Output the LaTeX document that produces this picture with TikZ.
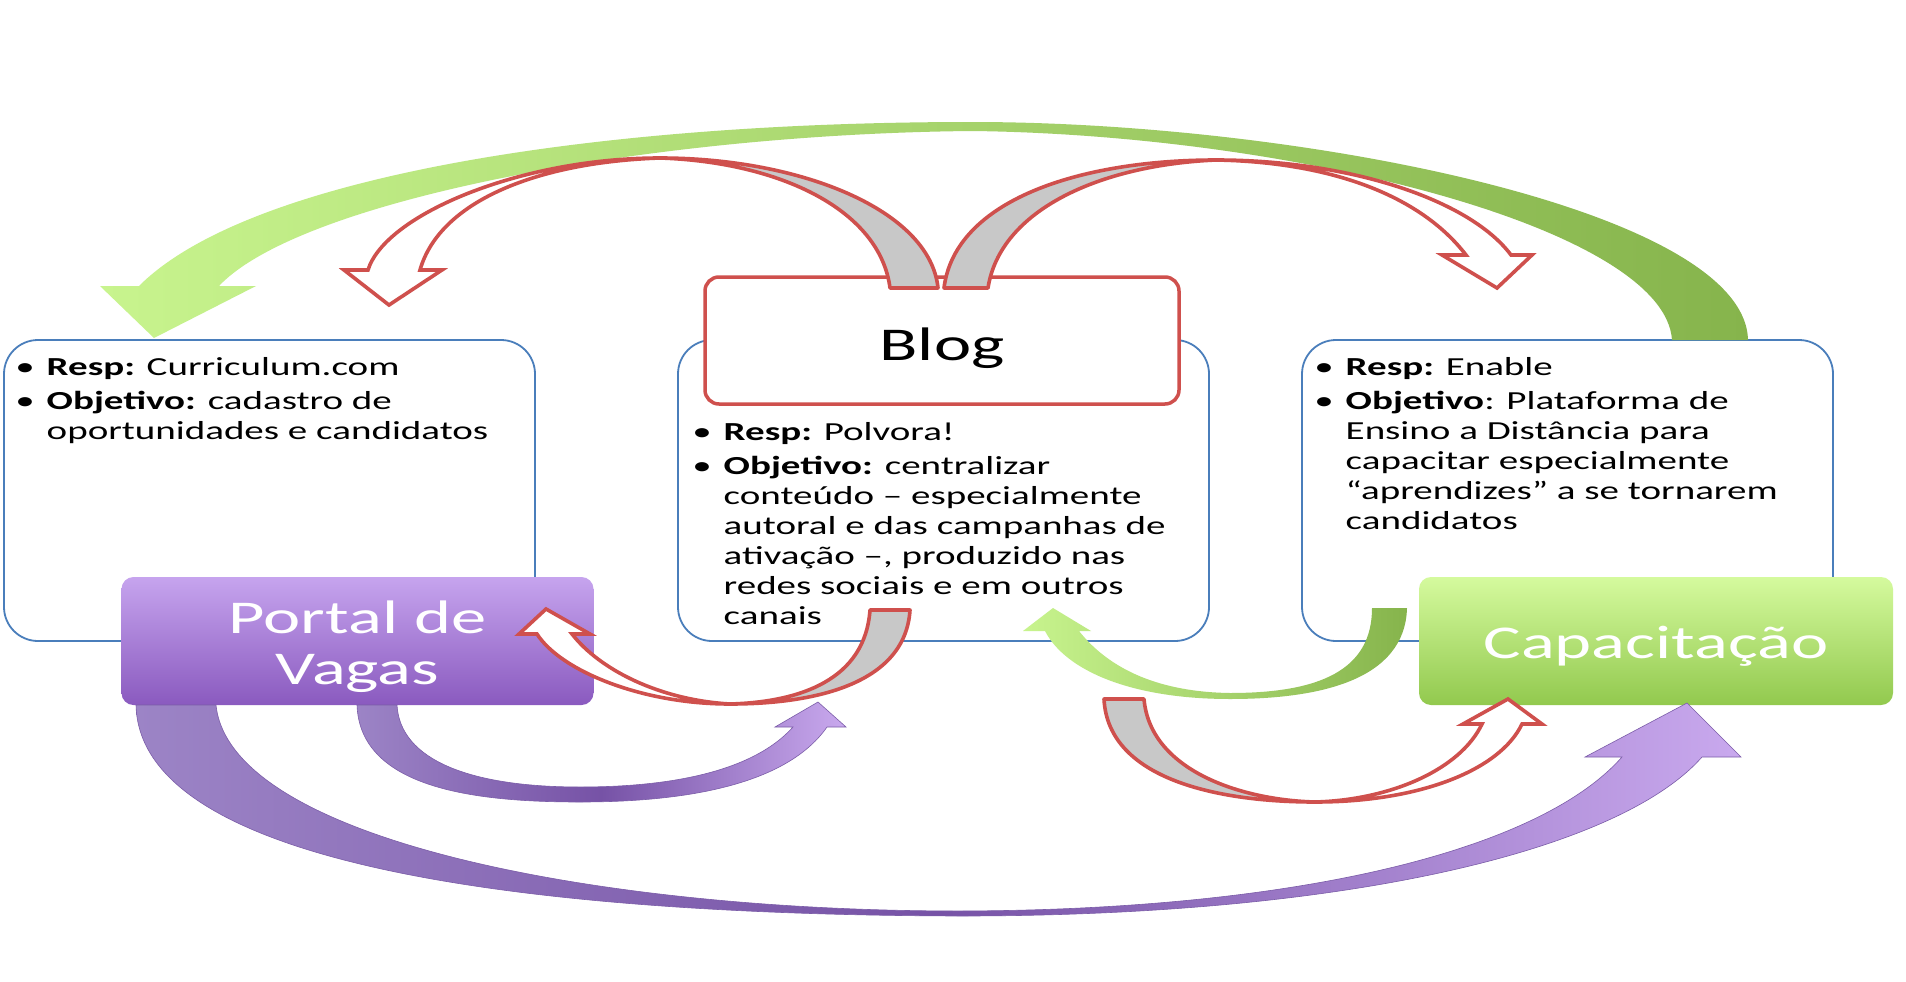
\documentclass[tikz,border=0pt]{standalone}
\usepackage{fontspec}
\setmainfont{Carlito}[FakeStretch=1.5]
\usepackage{array}
\definecolor{boxblue}{HTML}{4A7EBB}
\definecolor{redline}{HTML}{CF504D}
\definecolor{arrowgrey}{HTML}{C8C8C8}
\definecolor{greenhead}{HTML}{C8F48E}
\definecolor{greentail}{HTML}{86B44C}
\definecolor{purplehead}{HTML}{C9A9EE}
\definecolor{purplemid}{HTML}{7652A6}
\definecolor{purpletail}{HTML}{9C84C6}
\definecolor{purpleedge}{HTML}{7B5DA8}
\definecolor{portaltop}{HTML}{C6A4EE}
\definecolor{portalbottom}{HTML}{8A5ABF}
\definecolor{capatop}{HTML}{D5FA9E}
\definecolor{capabottom}{HTML}{92C94E}
\begin{document}
\begin{tikzpicture}[x=1pt,y=-1pt,
	infobox/.style={draw=boxblue,line width=1.8pt,fill=white,rounded corners=34pt,minimum width=531pt,minimum height=301pt,inner sep=0pt},
	bodytext/.style={anchor=north west,inner sep=0pt,font=\fontsize{26}{30}\selectfont},
	titlebox/.style={rounded corners=12pt,minimum width=472pt,minimum height=128pt,inner sep=0pt,align=center,font=\fontsize{47}{51}\selectfont},
	greenfill/.style={left color=greenhead,right color=greentail},
	purplefill/.style={left color=purpletail,right color=purplehead,middle color=purplemid,draw=purpleedge,line width=0.6pt},
	redfront/.style={draw=redline,line width=3.6pt,line join=miter,fill=white},
	redback/.style={draw=redline,line width=3.6pt,line join=round,fill=arrowgrey}]
		\fill [white] (0,0) rectangle (1906,982);
		\useasboundingbox (0,0) rectangle (1906,982);
		\node [infobox] (portalinfo) at (269.5,490.5) {};
		\node [infobox] (bloginfo) at (943.5,490.5) {};
		\node [infobox] (capainfo) at (1567.5,490.5) {};
		\node [bodytext] (portaltext) at ([shift={(12,15)}]portalinfo.north west) {\begin{tabular}{@{}l@{\hspace{12pt}}l@{}}
			\textbullet & \textbf{Resp:} Curriculum.com\\[4pt]
			\textbullet & \textbf{Objetivo:} cadastro de\\
			& oportunidades e candidatos
		\end{tabular}};
		\node [bodytext] (blogtext) at ([shift={(15,80)}]bloginfo.north west) {\begin{tabular}{@{}l@{\hspace{12pt}}l@{}}
			\textbullet & \textbf{Resp:} Polvora!\\[4pt]
			\textbullet & \textbf{Objetivo:} centralizar\\
			& conteúdo -- especialmente\\
			& autoral e das campanhas de\\
			& ativação --, produzido nas\\
			& redes sociais e em outros\\
			& canais
		\end{tabular}};
		\node [bodytext] (capatext) at ([shift={(13,15)}]capainfo.north west) {\begin{tabular}{@{}l@{\hspace{12pt}}l@{}}
			\textbullet & \textbf{Resp:} Enable\\[4pt]
			\textbullet & \textbf{Objetivo}: Plataforma de\\
			& Ensino a Distância para\\
			& capacitar especialmente\\
			& “aprendizes” a se tornarem\\
			& candidatos
		\end{tabular}};
		\node [titlebox,draw=redline,line width=3.5pt,fill=white,minimum width=474pt,minimum height=127pt,rounded corners=14pt] (blog) at (942,340.5) {};
		\node [font=\fontsize{47}{51}\selectfont] (blogtitle) at ([yshift=-8pt]blog.center) {Blog};
		\node [titlebox,top color=portaltop,bottom color=portalbottom] (portal) at (357.5,641) {};
		\node [font=\fontsize{47}{51}\selectfont,align=center,text=white] (portaltitle) at ([yshift=-6pt]portal.center) {Portal de\\Vagas};
		\node [titlebox,top color=capatop,bottom color=capabottom,minimum width=474pt] (capa) at (1656,641) {};
		\node [font=\fontsize{47}{51}\selectfont,text=white] (capatitle) at ([yshift=-5pt]capa.center) {Capacitação};
		\path [greenfill] (219,286) -- (256,286) -- (154,338) -- (100,286) -- (139,286)
			.. controls (250,175) and (600,122) .. (972,122)
			.. controls (1300,122) and (1745,210) .. (1748,340) -- (1672,340)
			.. controls (1665,230) and (1300,135) .. (972,131)
			.. controls (650,134) and (300,200) .. (219,286) -- cycle;
		\path [redback] (660,158) .. controls (800,158) and (930,210) .. (938,288) -- (890,288)
			.. controls (880,210) and (780,162) .. (660,158) -- cycle;
		\path [redfront] (420,270) -- (442,270) -- (389,305) -- (344,270) -- (368,270)
			.. controls (385,215) and (520,158) .. (660,158)
			.. controls (540,162) and (440,200) .. (420,270) -- cycle;
		\path [redback] (944,288) .. controls (955,200) and (1080,160) .. (1216,160)
			.. controls (1100,165) and (1000,210) .. (988,288) -- cycle;
		\path [redfront] (1216,160) .. controls (1350,160) and (1470,200) .. (1511,255)
			-- (1532,255) -- (1497,288) -- (1442,255) -- (1466,255)
			.. controls (1420,195) and (1330,162) .. (1216,160) -- cycle;
		\path [purplefill] (136,705) .. controls (140,880) and (600,915) .. (960,916)
			.. controls (1350,916) and (1620,850) .. (1702,757)
			-- (1741,757) -- (1687,703) -- (1585,757) -- (1622,757)
			.. controls (1540,850) and (1300,910) .. (960,911)
			.. controls (600,911) and (230,840) .. (216,705) -- cycle;
		\path [purplefill] (357,705) .. controls (360,790) and (480,802) .. (580,802)
			.. controls (700,802) and (790,780) .. (827,727)
			-- (846,727) -- (818,702) -- (775,727) -- (793,727)
			.. controls (750,775) and (660,787) .. (580,787)
			.. controls (470,787) and (400,760) .. (397,705) -- cycle;
		\path [redback] (910,610) .. controls (905,690) and (800,704) .. (730,704)
			.. controls (800,702) and (865,680) .. (870,610) -- cycle;
		\path [redfront] (730,704) .. controls (640,704) and (560,670) .. (537,634)
			-- (519,634) -- (546,609) -- (590,634) -- (572,634)
			.. controls (600,670) and (660,700) .. (730,704) -- cycle;
		\path [greenfill] (1407,608) .. controls (1405,680) and (1320,699) .. (1230,699)
			.. controls (1130,699) and (1065,670) .. (1045,631)
			-- (1023,631) -- (1053,608) -- (1091,631) -- (1079,631)
			.. controls (1110,670) and (1160,692) .. (1230,693)
			.. controls (1320,693) and (1372,670) .. (1372,608) -- cycle;
		\path [redback] (1104,699) .. controls (1108,780) and (1220,802) .. (1315,802)
			.. controls (1240,800) and (1150,770) .. (1144,699) -- cycle;
		\path [redfront] (1315,802) .. controls (1420,802) and (1500,770) .. (1522,724)
			-- (1542,724) -- (1508,699) -- (1463,724) -- (1482,724)
			.. controls (1460,770) and (1390,800) .. (1315,802) -- cycle;
	\end{tikzpicture}
\end{document}
